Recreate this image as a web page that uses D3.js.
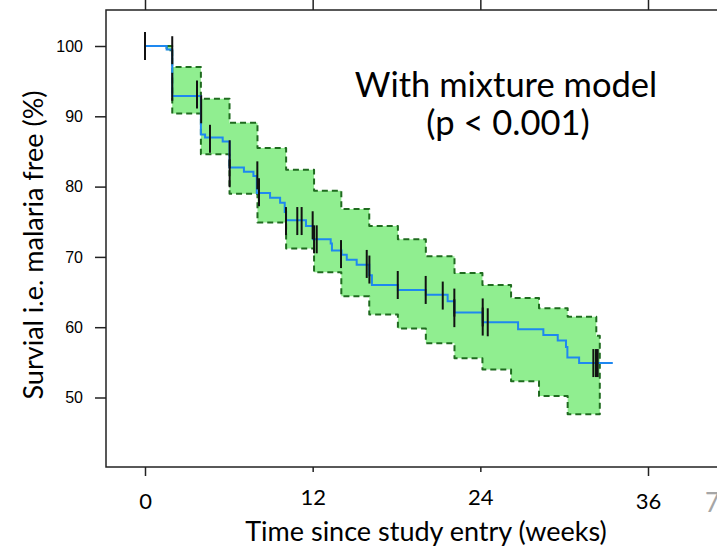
<!DOCTYPE html>
<html>
<head>
<meta charset="utf-8">
<script src="https://cdn.jsdelivr.net/npm/d3@7"></script>
<style>
  body { margin: 0; background: #fff; }
  svg { display: block; }
  .y-axis text { font-size: 16px; font-family: "Liberation Sans", Arial, sans-serif; }
</style>
</head>
<body>
<svg id="km"></svg>
<script>
// Kaplan-Meier curve (weeks, % malaria free)
const kmTimes = [0, 1.55, 1.95, 4.0, 4.3, 5.56, 6.05, 7.08, 7.76, 8.0, 8.95, 9.67, 10.0, 10.1, 11.52, 12.02, 13.29, 13.38, 14.07, 14.44, 15.15, 16.05, 16.24, 18.1, 20.1, 21.66, 22.14, 24.17, 26.7, 28.51, 29.54, 30.13, 30.23, 31.07, 33.48];
const kmSurv  = [100, 99.5, 92.9, 87.4, 87.0, 86.4, 82.7, 82.1, 81.5, 79.1, 78.4, 77.7, 76.4, 75.2, 74.4, 72.5, 71.9, 70.9, 70.3, 69.6, 68.9, 67.4, 66.0, 65.3, 64.6, 63.7, 62.1, 60.7, 59.7, 58.9, 58.1, 57.2, 55.7, 54.9, 54.9];

// confidence band (mixture model), piecewise constant between breaks
const bandBreaks = [1.55, 1.95, 4.0, 6.05, 8.05, 10.1, 12.1, 14.05, 16.05, 18.1, 20.1, 22.15, 24.15, 26.2, 28.2, 30.25, 32.3, 32.55];
const bandUpper  = [100, 97.0, 92.5, 89.1, 85.5, 82.4, 79.4, 76.8, 74.4, 72.5, 70.1, 67.7, 66.0, 64.15, 62.7, 61.5, 58.8];
const bandLower  = [99.4, 90.4, 84.6, 79.0, 74.9, 71.2, 67.8, 64.4, 61.8, 59.8, 57.7, 55.6, 54.0, 52.3, 50.2, 47.6, 47.6];

// censor marks
const censorTimes = [0, 1.95, 1.95, 3.72, 4.02, 4.65, 6.06, 6.06, 8.04, 8.16, 10.09, 10.9, 11.21, 12.0, 12.1, 12.29, 14.03, 15.87, 16.06, 18.09, 20.09, 21.31, 22.14, 22.14, 24.17, 24.17, 24.53, 32.09, 32.28, 32.4];
const censorSurv  = [100, 99.4, 94.2, 93.1, 91.0, 86.8, 84.6, 81.9, 81.6, 79.2, 75.1, 75.1, 75.1, 74.5, 72.5, 72.5, 70.4, 69.0, 68.2, 66.0, 65.3, 64.5, 63.5, 62.0, 62.1, 60.8, 60.7, 54.9, 54.9, 54.9];

const xTicks = [0, 12, 24, 36];
const yTicks = [50, 60, 70, 80, 90, 100];

const w = 717, h = 554;
const pLeft = 106, pTop = 10, pBottom = 467;
const calibriLike = 'Lato, "Open Sans", sans-serif';

const svg = d3.select('#km')
    .attr('width', w)
    .attr('height', h);

const x = d3.scaleLinear().domain([0, 36]).range([145, 648]);
const y = d3.scaleLinear().domain([50, 100]).range([397.5, 46]);

// band polygon
let bandPts = [];
bandUpper.forEach((u, i) => {
    bandPts.push([bandBreaks[i], u], [bandBreaks[i + 1], u]);
});
for (let i = bandLower.length - 1; i >= 0; i--) {
    bandPts.push([bandBreaks[i + 1], bandLower[i]], [bandBreaks[i], bandLower[i]]);
}
const poly = d3.line().x(d => x(d[0])).y(d => y(d[1]));

svg.append('path')
    .attr('d', poly(bandPts) + 'Z')
    .attr('fill', '#90ee90')
    .attr('stroke', '#1f6b1f')
    .attr('stroke-width', 2)
    .attr('stroke-dasharray', '6,4')
    .attr('stroke-linejoin', 'round');

// KM step line
const km = kmTimes.map((t, i) => [t, kmSurv[i]]);
svg.append('path')
    .attr('d', d3.line().curve(d3.curveStepAfter).x(d => x(d[0])).y(d => y(d[1]))(km))
    .attr('fill', 'none')
    .attr('stroke', '#1e88f0')
    .attr('stroke-width', 2);

// censor ticks
svg.selectAll('.cens')
    .data(censorTimes)
    .enter()
    .append('line')
    .classed('cens', true)
    .attr('x1', d => x(d))
    .attr('x2', d => x(d))
    .attr('y1', (d, i) => y(censorSurv[i]) - 14)
    .attr('y2', (d, i) => y(censorSurv[i]) + 14)
    .attr('stroke', '#111')
    .attr('stroke-width', 2);

// frame
svg.append('rect')
    .attr('x', pLeft)
    .attr('y', pTop)
    .attr('width', 640)
    .attr('height', pBottom - pTop)
    .attr('fill', 'none')
    .attr('stroke', '#222')
    .attr('stroke-width', 1.5);

//y-axis
const yAxis = svg.append('g')
    .classed('y-axis', true)
    .attr('transform', 'translate(' + pLeft + ',0)')
    .call(d3.axisLeft(y).tickValues(yTicks).tickSize(11).tickPadding(12));
yAxis.select('.domain').remove();
yAxis.selectAll('line').attr('stroke', '#222').attr('stroke-width', 1.5);
yAxis.selectAll('text').attr('fill', '#000');

//top ticks, no labels
const topAxis = svg.append('g')
    .attr('transform', 'translate(0,' + pTop + ')')
    .call(d3.axisTop(x).tickValues(xTicks).tickSize(10).tickFormat(''));
topAxis.select('.domain').remove();
topAxis.selectAll('line').attr('stroke', '#222').attr('stroke-width', 1.5);

//x-axis
const xAxis = svg.append('g')
    .attr('transform', 'translate(0,' + pBottom + ')')
    .call(d3.axisBottom(x).tickValues(xTicks).tickSize(9))
    .attr('font-size', 22)
    .attr('font-family', calibriLike);
xAxis.select('.domain').remove();
xAxis.selectAll('line')
    .attr('stroke', '#222')
    .attr('stroke-width', 1.5)
    .attr('y2', d => (d === 12 || d === 24) ? 5 : 9);
xAxis.selectAll('text')
    .attr('dy', null)
    .attr('y', d => (d === 12 || d === 24) ? 38 : 42)
    .attr('fill', '#000');

// stray slide number at the edge
svg.append('text')
    .attr('x', 705)
    .attr('y', 512)
    .attr('fill', '#a6a6a6')
    .style('font-family', calibriLike)
    .style('font-size', '26px')
    .text('7');

//x-axis title
svg.append('text')
    .attr('x', 426)
    .attr('y', 541)
    .style('text-anchor', 'middle')
    .style('font-family', calibriLike)
    .style('font-size', '27px')
    .text('Time since study entry (weeks)');

//y-axis title
svg.append('text')
    .attr('transform', 'rotate(-90)')
    .attr('x', -245)
    .attr('y', 43)
    .style('text-anchor', 'middle')
    .style('font-family', calibriLike)
    .style('font-size', '27px')
    .text('Survial i.e. malaria free (%)');

// annotation
svg.append('text')
    .attr('x', 506)
    .attr('y', 97)
    .style('text-anchor', 'middle')
    .style('font-family', calibriLike)
    .style('font-size', '34.5px')
    .text('With mixture model');
svg.append('text')
    .attr('x', 508)
    .attr('y', 135)
    .style('text-anchor', 'middle')
    .style('font-family', calibriLike)
    .style('font-size', '34.5px')
    .text('(p < 0.001)');
</script>
</body>
</html>
